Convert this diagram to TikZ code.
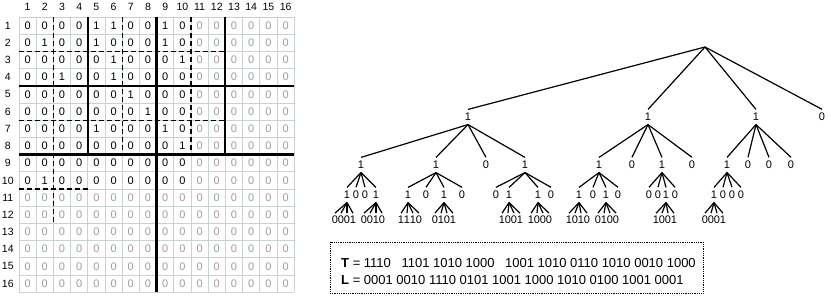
\documentclass[tikz,border=0pt]{standalone}
\usepackage{fontspec}
\setmainfont{Liberation Sans}
\usetikzlibrary{positioning}
\definecolor{gridgray}{HTML}{C8D2D2}
\definecolor{padgray}{HTML}{9C9C9C}

\tikzset{
  cell/.style={font=\fontsize{11}{12}\selectfont, inner sep=0pt},
  padcell/.style={cell, text=padgray},
  axislab/.style={font=\fontsize{10.5}{12}\selectfont, inner sep=0pt},
  gridline/.style={gridgray, line width=0.9pt},
  cuteight/.style={line width=2.9pt},
  cutfour/.style={line width=2pt},
  cuttwo/.style={dash pattern=on 5pt off 3pt, line width=1.2pt},
  bit/.style={font=\fontsize{11}{12}\selectfont, inner xsep=0.5pt, inner ysep=3.6pt},
  leaf/.style={font=\fontsize{11}{12}\selectfont, inner xsep=0pt, inner ysep=2.8pt},
  edge/.style={line width=1.2pt},
  tbox/.style={draw, densely dotted, line width=0.8pt, minimum width=373pt, minimum height=51pt, inner sep=0pt},
  code/.style={font=\fontsize{13}{15}\selectfont, inner sep=0pt, anchor=west}
}

\begin{document}
\begin{tikzpicture}[x=1pt, y=-1pt]
  \useasboundingbox (0,0) rectangle (831,295);

  % Adjacency matrix
  \begin{scope}[xshift=19pt, yshift=-17pt, x=17.2pt, y=-17.2pt]
    \foreach \i in {0,...,16} {
      \draw[gridline] (\i,0) -- (\i,16);
      \draw[gridline] (0,\i) -- (16,\i);
    }
    \foreach \i in {1,...,16} {
      \node[axislab] (col\i) at (\i-0.5,-0.6) {\i};
      \node[axislab] (row\i) at (-0.65,\i-0.5) {\i};
    }

    % Real cells
    \foreach \r/\row in {
      1/{0,0,0,0,1,1,0,0,1,0},
      2/{0,1,0,0,1,0,0,0,1,0},
      3/{0,0,0,0,0,1,0,0,0,1},
      4/{0,0,1,0,0,1,0,0,0,0},
      5/{0,0,0,0,0,0,1,0,0,0},
      6/{0,0,0,0,0,0,0,1,0,0},
      7/{0,0,0,0,1,0,0,0,1,0},
      8/{0,0,0,0,0,0,0,0,0,1},
      9/{0,0,0,0,0,0,0,0,0,0},
      10/{0,1,0,0,0,0,0,0,0,0}} {
      \foreach \v [count=\c] in \row {
        \node[cell] (m-\r-\c) at (\c-0.5,\r-0.5) {\v};
      }
    }

    % Padding cells
    \foreach \r in {1,...,10} {
      \foreach \c in {11,...,16} {
        \node[padcell] (m-\r-\c) at (\c-0.5,\r-0.5) {0};
      }
    }
    \foreach \r in {11,...,16} {
      \foreach \c in {1,...,16} {
        \node[padcell] (m-\r-\c) at (\c-0.5,\r-0.5) {0};
      }
    }

    % Quadrant splits
    \draw[cuteight] (8,0) -- (8,16);
    \draw[cuteight] (0,8) -- (16,8);
    \draw[cutfour] (4,0) -- (4,8);
    \draw[cutfour] (12,0) -- (12,8);
    \draw[cutfour] (0,4) -- (16,4);
    \draw[cuttwo] (2,0) -- (2,12);
    \draw[cuttwo] (6,0) -- (6,8);
    \draw[cuttwo] (10,0) -- (10,8);
    \draw[cuttwo] (0,2) -- (12,2);
    \draw[cuttwo] (0,6) -- (12,6);
    \draw[cuttwo] (0,10) -- (4,10);
  \end{scope}

  % Tree, level 1
  \coordinate (rt) at (705,47);
  \foreach \n/\x/\b in {a/468/1, b/648/1, c/756/1, d/822/0} {
    \node[bit] (\n) at (\x,117) {\b};
    \draw[edge] (rt) -- (\n.north);
  }

  % Level 2
  \foreach \p/\n/\x/\b in {
    a/a1/361/1, a/a2/436/1, a/a3/486/0, a/a4/525/1,
    b/b1/599/1, b/b2/632/0, b/b3/662/1, b/b4/692/0,
    c/c1/727/1, c/c2/748/0, c/c3/769/0, c/c4/791/0
  } {
    \node[bit] (\n) at (\x,165) {\b};
    \draw[edge] (\p.south) -- (\n.north);
  }

  % Level 3
  \foreach \p/\n/\x/\b in {
    a1/a11/347/1, a1/a12/356/0, a1/a13/365/0, a1/a14/376/1,
    a2/a21/408/1, a2/a22/426/0, a2/a23/444/1, a2/a24/462/0,
    a4/a41/496/0, a4/a42/509/1, a4/a43/538/1, a4/a44/551/0,
    b1/b11/579/1, b1/b12/593/0, b1/b13/606/1, b1/b14/618/0,
    b3/b31/649/0, b3/b32/658/0, b3/b33/666/1, b3/b34/675/0,
    c1/c11/714/1, c1/c12/723/0, c1/c13/732/0, c1/c14/741/0
  } {
    \node[bit] (\n) at (\x,195) {\b};
    \draw[edge] (\p.south) -- (\n.north);
  }

  % Leaves
  \foreach \p/\x/\bits in {
    a11/344/{0,0,0,1}, a14/373/{0,0,1,0}, a21/410/{1,1,1,0}, a23/444/{0,1,0,1},
    a42/511/{1,0,0,1}, a43/540/{1,0,0,0}, b11/578/{1,0,1,0}, b13/607/{0,1,0,0},
    b33/665/{1,0,0,1}, c11/714/{0,0,0,1}} {
    \foreach \v [count=\i] in \bits {
      \node[leaf] (\p\i) at ({\x+(\i-2.5)*6},220) {\v};
      \draw[edge] (\p.south) -- (\p\i.north);
    }
  }

  % Bitmaps
  \node[tbox] (box) at (516.5,267.5) {};
  \node[code] (tl) at (341,263)
    {\textbf{T} = 1110\hspace{7pt} 1101 1010 1000\hspace{7pt} 1001 1010 0110 1010 0010 1000};
  \node[code] (ll) at (341,280)
    {\textbf{L} = 0001 0010 1110 0101 1001 1000 1010 0100 1001 0001};
\end{tikzpicture}
\end{document}
